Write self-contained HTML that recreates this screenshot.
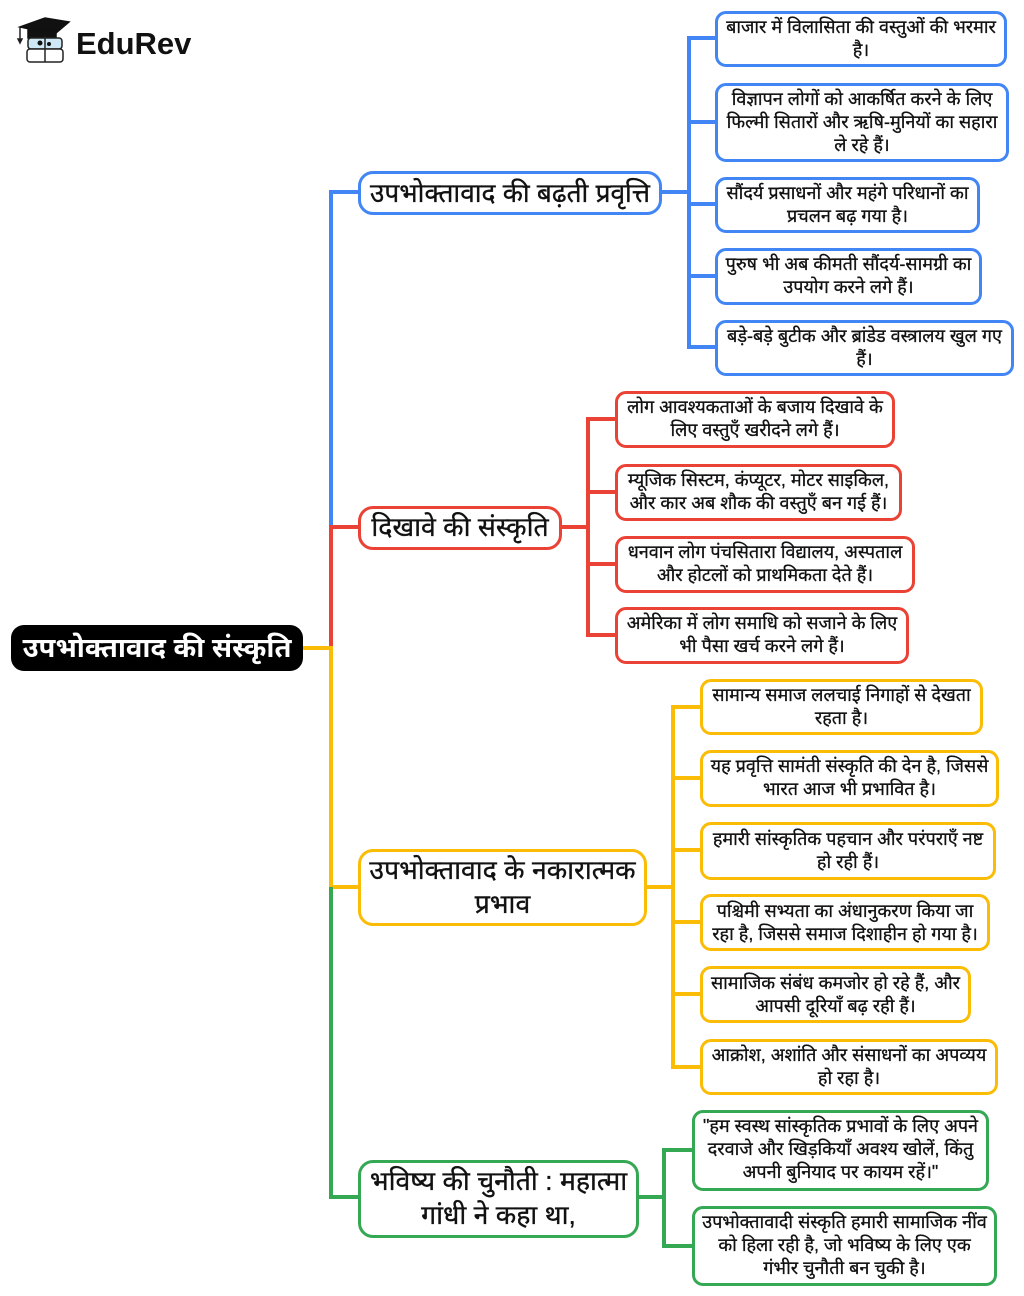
<!DOCTYPE html>
<html lang="hi"><head><meta charset="utf-8"><title>उपभोक्तावाद की संस्कृति</title>
<style>
html,body{margin:0;padding:0;background:#fff}
#p{position:relative;width:1024px;height:1296px;overflow:hidden;background:#fff;font-family:"Liberation Sans","Noto Sans Devanagari","Lohit Devanagari","Noto Sans CJK SC",sans-serif;color:#111}
svg{position:absolute;left:0;top:0}
.b{position:absolute;box-sizing:border-box;border:3px solid;border-radius:11px;background:#fff;text-align:center;white-space:nowrap;-webkit-text-stroke:.3px #111}
.l{font-size:18px;line-height:23px;padding-top:2px}
.m{font-size:26.6px;line-height:34px;border-radius:15px;padding-top:1px;-webkit-text-stroke:.35px #111}
.B{border-color:#4285f4}.R{border-color:#ea4335}.Y{border-color:#fbbc05}.G{border-color:#34a853}
#root{position:absolute;left:11px;top:625px;width:292px;height:46px;background:#000;color:#fff;border-radius:13px;font-size:27.4px;font-weight:bold;line-height:46px;text-align:center;white-space:nowrap}
#logo{position:absolute;left:76px;top:24px;font-size:31px;font-weight:bold;line-height:40px;color:#111}
</style></head><body><div id="p">
<svg width="1024" height="1296" fill="none" stroke-width="4">
<!-- logo -->
<g stroke="#222" stroke-width="1.5">
<polygon points="20,27 45,18 69,22 56,33 34,30" fill="#111" stroke="#111"/>
<rect x="28" y="30" width="28" height="8" fill="#111" stroke="#111"/>
<path d="M20,27V39"/><path d="M18,39h4l-2,4z" fill="#111"/>
<rect x="28" y="38" width="34" height="11" rx="3" fill="#cfe8f5"/>
<rect x="27" y="49" width="36" height="13" rx="3" fill="#fff"/>
<path d="M45,36V62"/>
</g>
<circle cx="40" cy="43" r="2.5" fill="#111"/><circle cx="49" cy="44" r="2" fill="#111"/>
<!-- trunk -->
<path d="M358,192H331V527" stroke="#4285f4"/>
<path d="M358,527H331V648" stroke="#ea4335"/>
<path d="M303,648H331V887H358" stroke="#fbbc05"/>
<path d="M331,887V1197H358" stroke="#34a853"/>
<!-- blue -->
<g stroke="#4285f4"><path d="M661,192H689"/><path d="M716,38H689V347H716"/><path d="M689,122H716M689,204H716M689,276H716"/></g>
<!-- red -->
<g stroke="#ea4335"><path d="M561,527H588"/><path d="M615,419H588V635H615"/><path d="M588,492H615M588,564H615"/></g>
<!-- yellow -->
<g stroke="#fbbc05"><path d="M646,887H673"/><path d="M700,707H673V1067H700"/><path d="M673,778H700M673,850H700M673,922H700M673,994H700"/></g>
<!-- green -->
<g stroke="#34a853"><path d="M638,1197H664"/><path d="M692,1150H664V1246H692"/></g>
</svg>
<div id="logo">EduRev</div>
<div id="root">उपभोक्तावाद की संस्कृति</div>

<div class="b m B" style="left:358px;top:171px;width:304px;height:44px;padding-top:2px;font-size:26.2px">उपभोक्तावाद की बढ़ती प्रवृत्ति</div>
<div class="b m R" style="left:358px;top:506px;width:204px;height:44px">दिखावे की संस्कृति</div>
<div class="b m Y" style="left:358px;top:849px;width:289px;height:77px">उपभोक्तावाद के नकारात्मक<br>प्रभाव</div>
<div class="b m G" style="left:358px;top:1160px;width:281px;height:78px">भविष्य की चुनौती : महात्मा<br>गांधी ने कहा था,</div>

<div class="b l B" style="left:715px;top:11px;width:292px;height:56px">बाजार में विलासिता की वस्तुओं की भरमार<br>है।</div>
<div class="b l B" style="left:715px;top:83px;width:294px;height:79px">विज्ञापन लोगों को आकर्षित करने के लिए<br>फिल्मी सितारों और ऋषि-मुनियों का सहारा<br>ले रहे हैं।</div>
<div class="b l B" style="left:715px;top:177px;width:265px;height:56px">सौंदर्य प्रसाधनों और महंगे परिधानों का<br>प्रचलन बढ़ गया है।</div>
<div class="b l B" style="left:715px;top:248px;width:267px;height:57px">पुरुष भी अब कीमती सौंदर्य-सामग्री का<br>उपयोग करने लगे हैं।</div>
<div class="b l B" style="left:715px;top:320px;width:299px;height:56px">बड़े-बड़े बुटीक और ब्रांडेड वस्त्रालय खुल गए<br>हैं।</div>

<div class="b l R" style="left:615px;top:391px;width:280px;height:57px">लोग आवश्यकताओं के बजाय दिखावे के<br>लिए वस्तुएँ खरीदने लगे हैं।</div>
<div class="b l R" style="left:615px;top:464px;width:287px;height:57px">म्यूजिक सिस्टम, कंप्यूटर, मोटर साइकिल,<br>और कार अब शौक की वस्तुएँ बन गई हैं।</div>
<div class="b l R" style="left:615px;top:536px;width:300px;height:57px">धनवान लोग पंचसितारा विद्यालय, अस्पताल<br>और होटलों को प्राथमिकता देते हैं।</div>
<div class="b l R" style="left:615px;top:607px;width:294px;height:57px">अमेरिका में लोग समाधि को सजाने के लिए<br>भी पैसा खर्च करने लगे हैं।</div>

<div class="b l Y" style="left:700px;top:679px;width:283px;height:56px">सामान्य समाज ललचाई निगाहों से देखता<br>रहता है।</div>
<div class="b l Y" style="left:700px;top:750px;width:299px;height:57px">यह प्रवृत्ति सामंती संस्कृति की देन है, जिससे<br>भारत आज भी प्रभावित है।</div>
<div class="b l Y" style="left:700px;top:822px;width:296px;height:58px;padding-top:3px">हमारी सांस्कृतिक पहचान और परंपराएँ नष्ट<br>हो रही हैं।</div>
<div class="b l Y" style="left:700px;top:894px;width:290px;height:57px;padding-top:3px">पश्चिमी सभ्यता का अंधानुकरण किया जा<br>रहा है, जिससे समाज दिशाहीन हो गया है।</div>
<div class="b l Y" style="left:700px;top:966px;width:271px;height:57px;padding-top:3px">सामाजिक संबंध कमजोर हो रहे हैं, और<br>आपसी दूरियाँ बढ़ रही हैं।</div>
<div class="b l Y" style="left:700px;top:1039px;width:298px;height:56px">आक्रोश, अशांति और संसाधनों का अपव्यय<br>हो रहा है।</div>

<div class="b l G" style="left:692px;top:1110px;width:297px;height:81px">"हम स्वस्थ सांस्कृतिक प्रभावों के लिए अपने<br>दरवाजे और खिड़कियाँ अवश्य खोलें, किंतु<br>अपनी बुनियाद पर कायम रहें।"</div>
<div class="b l G" style="left:692px;top:1206px;width:305px;height:80px">उपभोक्तावादी संस्कृति हमारी सामाजिक नींव<br>को हिला रही है, जो भविष्य के लिए एक<br>गंभीर चुनौती बन चुकी है।</div>
</div></body></html>
